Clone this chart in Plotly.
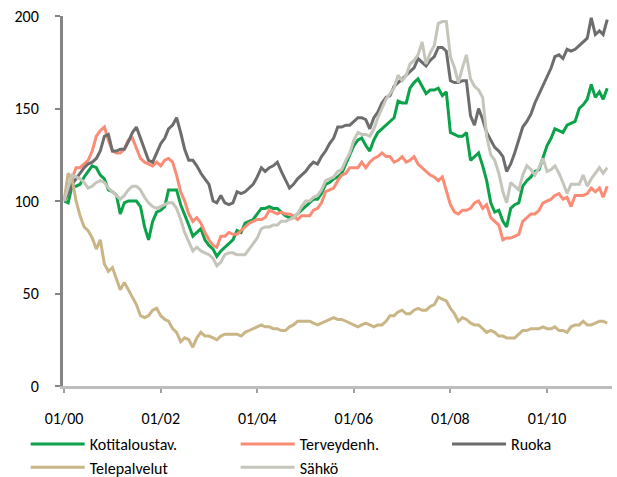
import pandas as pd
import plotly.graph_objects as go

months = pd.date_range("2000-01-01", periods=136, freq="MS")

kotitaloustav = [100, 99, 108, 108, 109, 113, 116, 119, 118, 114, 112, 106, 105, 103, 93, 99, 100, 100, 100, 97,
                 86, 79, 89, 94, 95, 97, 106, 106, 106, 98, 93, 87, 81, 83, 85, 79, 76, 74, 70, 73,
                 75, 77, 79, 84, 83, 88, 89, 90, 93, 96, 96, 97, 96, 96, 94, 92, 91, 91, 93, 95,
                 97, 99, 101, 101, 104, 109, 110, 112, 113, 115, 120, 125, 130, 133, 134, 130, 127, 133, 137, 139,
                 141, 143, 145, 154, 153, 153, 161, 164, 166, 162, 158, 160, 160, 161, 157, 159, 137, 136, 135, 135,
                 137, 122, 124, 126, 119, 111, 99, 94, 95, 89, 86, 96, 98, 99, 108, 111, 113, 116, 117, 123,
                 130, 134, 139, 138, 137, 141, 142, 143, 150, 152, 155, 163, 156, 159, 155, 161]

terveydenh = [100, 104, 112, 118, 118, 120, 122, 127, 135, 138, 140, 133, 127, 126, 126, 128, 133, 134, 128, 123,
              121, 120, 119, 121, 119, 122, 123, 121, 114, 105, 100, 93, 89, 91, 88, 83, 79, 76, 75, 81,
              81, 83, 82, 82, 84, 86, 88, 89, 90, 90, 91, 95, 94, 93, 94, 93, 93, 92, 90, 92,
              92, 92, 95, 96, 99, 105, 106, 107, 111, 114, 115, 118, 118, 118, 121, 118, 121, 123, 124, 126,
              124, 124, 121, 122, 124, 121, 122, 124, 120, 118, 116, 114, 113, 111, 113, 106, 98, 94, 93, 95,
              95, 96, 99, 100, 96, 98, 91, 89, 87, 79, 80, 80, 81, 82, 89, 91, 93, 93, 95, 99,
              100, 101, 103, 104, 101, 102, 97, 103, 103, 103, 104, 107, 105, 107, 102, 108]

ruoka = [100, 104, 109, 112, 115, 118, 120, 121, 123, 127, 135, 136, 127, 127, 128, 128, 132, 137, 140, 134,
         128, 122, 121, 126, 131, 134, 139, 141, 145, 137, 128, 122, 122, 119, 115, 112, 109, 100, 99, 103,
         99, 98, 99, 105, 104, 105, 107, 109, 113, 118, 116, 118, 119, 121, 116, 111, 107, 109, 112, 114,
         116, 119, 121, 120, 124, 127, 131, 134, 140, 140, 141, 141, 143, 145, 145, 144, 139, 145, 148, 153,
         156, 157, 162, 164, 166, 168, 170, 172, 177, 175, 173, 176, 178, 183, 183, 181, 165, 164, 164, 165,
         165, 146, 141, 150, 144, 137, 133, 129, 127, 124, 116, 120, 126, 133, 140, 143, 147, 153, 158, 163,
         167, 172, 178, 179, 177, 182, 181, 182, 184, 186, 188, 199, 190, 192, 190, 198]

telepalvelut = [100, 115, 112, 100, 92, 86, 84, 80, 74, 79, 66, 62, 64, 58, 52, 56, 52, 48, 44, 38,
                37, 38, 41, 42, 38, 36, 35, 31, 29, 24, 26, 25, 21, 26, 29, 27, 27, 26, 25, 27,
                28, 28, 28, 28, 27, 29, 30, 31, 32, 33, 32, 32, 31, 31, 30, 30, 32, 33, 35, 35,
                35, 35, 34, 33, 34, 35, 36, 37, 36, 36, 35, 34, 33, 32, 33, 34, 33, 32, 33, 33,
                35, 38, 38, 40, 41, 39, 39, 41, 42, 41, 41, 43, 44, 48, 47, 46, 42, 39, 35, 37,
                36, 34, 33, 33, 31, 29, 30, 29, 27, 27, 26, 26, 26, 28, 30, 30, 31, 31, 31, 32,
                31, 31, 32, 30, 30, 29, 32, 33, 33, 35, 33, 33, 34, 35, 35, 34]

sahko = [100, 108, 114, 113, 112, 110, 107, 108, 110, 111, 110, 107, 105, 103, 101, 103, 106, 108, 108, 106,
         102, 99, 97, 96, 97, 98, 99, 99, 96, 90, 83, 78, 73, 75, 73, 72, 71, 69, 65, 67,
         71, 72, 72, 71, 71, 71, 74, 77, 80, 85, 86, 86, 87, 87, 89, 89, 90, 91, 93, 97,
         100, 100, 102, 103, 106, 111, 112, 113, 116, 117, 122, 126, 133, 137, 136, 136, 135, 139, 145, 150,
         155, 158, 161, 168, 165, 168, 174, 176, 179, 186, 174, 180, 184, 196, 197, 197, 178, 172, 164, 172,
         179, 166, 162, 160, 156, 135, 125, 122, 115, 105, 99, 110, 108, 106, 114, 119, 117, 114, 118, 123,
         116, 117, 119, 115, 110, 104, 109, 109, 109, 114, 108, 112, 115, 118, 115, 118]

series_names = ["Kotitaloustav.", "Terveydenh.", "Ruoka", "Telepalvelut", "Sähkö"]
series_values = [kotitaloustav, terveydenh, ruoka, telepalvelut, sahko]
series_colors = ["#0BA24A", "#FA8C76", "#6D6D6D", "#C9B585", "#C6C5BB"]

y_ticks = [0, 50, 100, 150, 200]

FONT = "Calibri, Carlito, Lato, sans-serif"
FS = 16

# legend slot for each series (3 columns, 2 rows as in the original)
legend_ids = ["legend", "legend2", "legend3", "legend4", "legend5"]
legend_x = [-0.068, 0.3145, 0.6995, -0.068, 0.3145]
legend_y = [-0.157, -0.157, -0.157, -0.220, -0.220]

fig = go.Figure()
for name, vals, col, lid in zip(series_names, series_values, series_colors, legend_ids):
    fig.add_trace(go.Scatter(x=months, y=vals, name=name, mode="lines",
                             line=dict(color=col, width=3), legend=lid))

legend_cfg = {}
for lid, lx, ly in zip(legend_ids, legend_x, legend_y):
    legend_cfg[lid] = dict(orientation="h", x=lx, xanchor="left", y=ly, yanchor="middle",
                           font=dict(family=FONT, size=FS, color="#000000"),
                           bgcolor="rgba(0,0,0,0)", itemwidth=54)

fig.update_layout(
    width=617, height=477,
    margin=dict(l=63, r=5, t=16, b=91, autoexpand=False),
    paper_bgcolor="white", plot_bgcolor="white",
    font=dict(family=FONT, size=FS, color="#000000"),
    showlegend=True,
    **legend_cfg,
)
fig.update_xaxes(
    type="date", range=["1999-12-24", "2011-05-07"],
    tick0="2000-01-01", dtick="M24", tickformat="%m/%y",
    showgrid=False, zeroline=False,
    showline=True, linecolor="#BDBDBD", linewidth=2.5,
    ticks="outside", ticklen=4, tickwidth=1.5, tickcolor="#A0A0A0",
    ticklabelstandoff=12,
    tickfont=dict(family=FONT, size=FS, color="#000000"),
)
fig.update_yaxes(
    range=[0, 200], tickvals=y_ticks,
    showgrid=False, zeroline=False,
    showline=True, linecolor="#858585", linewidth=3,
    ticks="outside", ticklen=5, tickwidth=2, tickcolor="#858585",
    ticklabelstandoff=13,
    tickfont=dict(family=FONT, size=FS, color="#000000"),
)

# the page body has a default 8px margin; remove it so the figure fills the window exactly
fig.write_html("out.html", config={"displayModeBar": False},
               post_script="document.body.style.margin='0';")
